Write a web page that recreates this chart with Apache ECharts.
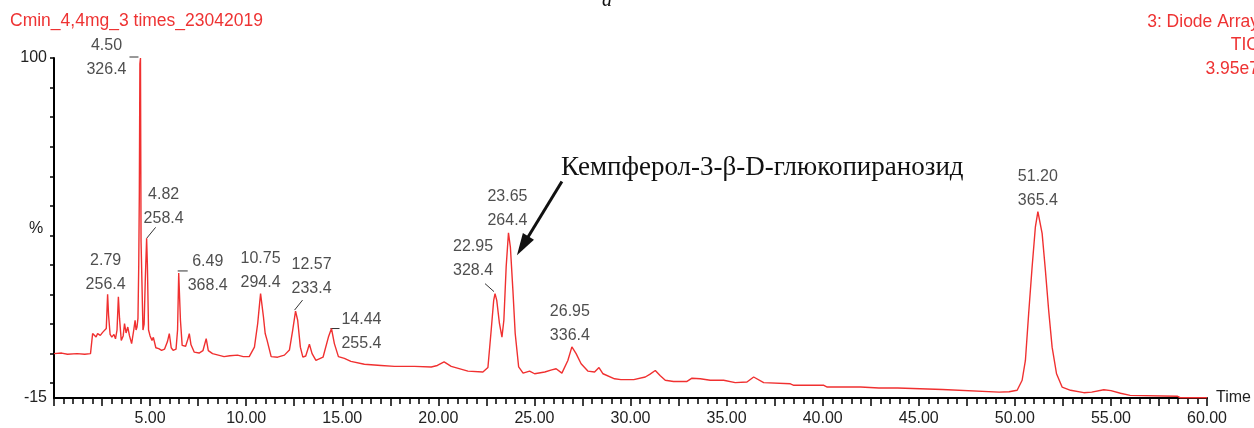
<!DOCTYPE html>
<html>
<head>
<meta charset="utf-8">
<script src="https://cdn.jsdelivr.net/npm/echarts@6/dist/echarts.min.js"></script>
<style>
  html, body { margin: 0; padding: 0; background: #fff; }
  #chart { width: 1254px; height: 428px; }
</style>
</head>
<body>
<div id="chart"></div>
<script>
// retention time (min) and TIC intensity (%)
var retTimes = [
  0.00, 0.40, 0.70, 1.20, 1.60, 1.90, 2.01, 2.10, 2.19, 2.27, 2.41, 2.53, 2.62, 2.72, 2.79, 2.84, 2.92,
  3.01, 3.12, 3.20, 3.28, 3.35, 3.41, 3.50, 3.60, 3.67, 3.75, 3.84, 3.93, 4.04, 4.15, 4.22, 4.27, 4.32,
  4.37, 4.41, 4.44, 4.47, 4.50, 4.53, 4.58, 4.63, 4.69, 4.75, 4.82, 4.86, 4.92, 5.00, 5.10, 5.17, 5.30,
  5.45, 5.60, 5.75, 5.90, 6.00, 6.10, 6.20, 6.35, 6.43, 6.49, 6.53, 6.58, 6.67, 6.85, 6.97, 7.04, 7.13,
  7.30, 7.55, 7.75, 7.92, 8.03, 8.25, 8.55, 8.85, 9.15, 9.55, 9.85,
  10.16, 10.43, 10.60, 10.70, 10.75, 10.90, 10.99, 11.09, 11.30, 11.64, 11.99, 12.25, 12.42, 12.57, 12.68,
  12.82, 12.95, 13.10, 13.29, 13.43, 13.63, 14.00, 14.28, 14.44, 14.59, 14.80, 15.11, 15.45, 16.15, 17.02,
  17.72, 18.76, 19.63, 19.95, 20.30, 20.67, 21.54, 22.32, 22.58, 22.75, 22.88, 22.95, 23.04, 23.18, 23.31,
  23.41, 23.53, 23.65, 23.75, 23.88, 24.00, 24.18, 24.41, 24.75, 25.01, 25.54, 25.90, 26.13, 26.43, 26.74,
  26.95, 27.17, 27.43, 27.78, 28.13, 28.36, 28.57, 29.17, 29.50, 30.17, 30.77, 31.00, 31.29, 31.55, 31.81,
  32.24, 32.94, 33.20, 33.63, 34.15, 34.85, 35.45, 36.06, 36.41, 36.93, 38.32, 38.50, 40.06, 40.24, 41.97,
  42.93, 43.90, 43.98, 46.23, 46.32, 49.18, 49.70, 50.12, 50.38, 50.55, 50.72, 50.90, 51.07, 51.20, 51.42,
  51.59, 51.76, 51.94, 52.17, 52.46, 52.90, 53.59, 54.00, 54.63, 55.00, 55.50, 56.00, 58.45, 58.60, 60.00
];
var tic = [
  0.0, 0.2, -0.2, 0.0, -0.2, 0.0, 6.8, 7.2, 5.6, 6.8, 6.2, 7.2, 6.8, 8.5, 20.1, 13, 6.5,
  5.6, 6.5, 5.0, 8.0, 19.2, 12, 4.5, 6, 10.2, 7, 9.0, 6, 3.4, 8, 11.3, 8, 9.0,
  12, 30, 54, 98, 100, 38, 38, 8, 10, 25, 39, 30, 8, 6, 4.5, 5.5, 2,
  1.7, 1.1, 1.5, 4, 6.8, 2, 1.1, 1.5, 8, 27.3, 20, 11.3, 2.8, 2.5, 5, 6.8, 3,
  0.5, 0.2, 1.0, 5.1, 1, 0, -0.5, -1, -0.7, -0.5, -1,
  -1, 2.2, 10.2, 17, 20.3, 12.4, 6.8, 4.5, -1, -1.2, -0.5, 1.2, 7.9, 14.4, 11.3,
  2.2, -1.2, -0.8, 3.2, 0, -2.3, -1.2, 5.6, 8.5, 3.4, -1, -1.6, -2.6, -3.6, -4,
  -4.3, -4.3, -4.5, -4.0, -2.8, -4.3, -5.9, -6.2, -4.7, 7.9, 18, 20.3, 18, 10.2, 5.6,
  11.3, 29.4, 40.9, 36, 21.5, 6.8, -4.5, -6.6, -5.9, -6.8, -6.2, -5.5, -5.1, -6.6, -2.3,
  2.3, 0, -3.4, -5.9, -6.2, -4.7, -6.8, -8.5, -8.8, -8.8, -7.9, -7.0, -5.7, -7.5, -9,
  -9.4, -9.4, -8.3, -8.5, -9, -9, -9.8, -9.6, -7.9, -9.8, -10.2, -10.7, -10.7, -11.3, -11.3,
  -11.6, -11.6, -12.1, -12.1, -12.7, -13, -12.9, -12.4, -9, -2.3, 13.6, 29.4, 42.9, 48, 40.7,
  28.2, 14.7, 2.2, -6.8, -11.3, -12.4, -13.2, -13.0, -12.2, -12.5, -13.4, -14.1, -14.4, -14.9, -14.9
];

// labelled peaks: retention time and m/z
var peakTimes = [2.79, 4.50, 4.82, 6.49, 10.75, 12.57, 14.44, 22.95, 23.65, 26.95, 51.20];
var peakMasses = ['256.4', '326.4', '258.4', '368.4', '294.4', '233.4', '255.4', '328.4', '264.4', '336.4', '365.4'];

var yTicks = [-10, 0, 10, 20, 30, 40, 50, 60, 70, 80, 90, 100];
var yLabels = [-15, 100];

// layout only: label offset from apex (px) and leader line [x1, y1, x2, y2] from apex (px)
var labelOffsets = [[-2, -22], [-34, 0], [17, -32], [29, 1], [0, -23], [16, -34], [30, 3], [-22, -35], [-1, -24], [-2, -23], [0, -23]];
var leaderLines = [null, [-11, -1, -2, -1], [0, 0, 9, -11], [-1, -2, 9, -2], null, [-1, -1, 7, -11], [-1, 0, 8, 0], [-1, -2, -10, -10], null, null, null];

var traceData = retTimes.map(function (t, i) { return [t, tic[i]]; });
var peakData = peakTimes.map(function (t, i) {
  var v = tic[retTimes.indexOf(t)];
  return { value: [t, v], label: { offset: labelOffsets[i] } };
});

var chart = echarts.init(document.getElementById('chart'));

var option = {
  animation: false,
  grid: { left: 54, right: 47, top: 58, bottom: 30 },
  xAxis: {
    type: 'value', min: 0, max: 60, interval: 2.5,
    name: 'Time', nameLocation: 'end', nameGap: 9,
    nameTextStyle: { color: '#222', fontFamily: 'Liberation Sans', fontSize: 16, verticalAlign: 'middle' },
    axisLine: { onZero: false, lineStyle: { color: '#000', width: 2 } },
    axisTick: { length: 8, lineStyle: { color: '#000', width: 1.5 } },
    minorTick: { show: true, splitNumber: 5, length: 6, lineStyle: { color: '#000', width: 1.5 } },
    splitLine: { show: false },
    axisLabel: {
      margin: 13, color: '#222', fontFamily: 'Liberation Sans', fontSize: 16,
      formatter: function (v) { return (v > 0 && v % 5 === 0) ? v.toFixed(2) : ''; }
    }
  },
  yAxis: {
    type: 'value', min: -15, max: 100,
    axisLine: { show: true, lineStyle: { color: '#000', width: 2 } },
    axisTick: { show: true, length: 4, customValues: yTicks, lineStyle: { color: '#000', width: 1.5 } },
    splitLine: { show: false },
    axisLabel: { margin: 7, color: '#222', fontFamily: 'Liberation Sans', fontSize: 16, customValues: yLabels }
  },
  series: [
    {
      name: 'TIC', type: 'line', data: traceData, symbol: 'none', smooth: false,
      lineStyle: { color: '#f03030', width: 1.4 },
      markLine: {
        silent: true, symbol: ['none', 'triangle'], symbolSize: [13, 22],
        lineStyle: { color: '#111', width: 3, type: 'solid' },
        label: { show: false },
        data: [[{ coord: [26.43, 58.2] }, { coord: [24.39, 36.5] }]]
      }
    },
    {
      name: 'peaks', type: 'scatter', data: peakData, symbolSize: 1,
      itemStyle: { color: 'rgba(0,0,0,0)' }, silent: true, z: 5,
      label: {
        show: true, position: 'inside', align: 'center', verticalAlign: 'middle',
        color: '#222', fontFamily: 'Liberation Sans', fontSize: 16, lineHeight: 24,
        formatter: function (p) { return p.value[0].toFixed(2) + '\n' + peakMasses[p.dataIndex]; }
      }
    }
  ],
  graphic: [
    { type: 'text', left: 10, top: 12, style: { text: 'Cmin_4,4mg_3 times_23042019', fill: '#ee3333', font: '17.5px "Liberation Sans"' } },
    { type: 'text', x: 1259, y: 10, style: { text: '3: Diode Array\nTIC\n3.95e7', fill: '#ee3333', font: '17.5px "Liberation Sans"', align: 'right', verticalAlign: 'top', lineHeight: 23.5 } },
    { type: 'text', x: 607, y: 11, style: { text: 'a', fill: '#111', font: 'italic 20px "Liberation Serif"', align: 'center', verticalAlign: 'bottom' } },
    { type: 'text', x: 36, y: 229, style: { text: '%', fill: '#222', font: '16px "Liberation Sans"', align: 'center', verticalAlign: 'middle' } },
    { type: 'text', x: 561, y: 168, style: { text: 'Кемпферол-3-β-D-глюкопиранозид', fill: '#111', font: '27px "Liberation Serif"', verticalAlign: 'middle' } }
  ]
};

chart.setOption(option);

// leader lines from each apex to its label
var leaders = [];
peakData.forEach(function (d, i) {
  var l = leaderLines[i];
  if (!l) return;
  var p = chart.convertToPixel({ gridIndex: 0 }, d.value);
  leaders.push({
    type: 'line', silent: true,
    shape: { x1: p[0] + l[0], y1: p[1] + l[1], x2: p[0] + l[2], y2: p[1] + l[3] },
    style: { stroke: '#333', lineWidth: 1 }
  });
});
chart.setOption({ graphic: option.graphic.concat(leaders) });
</script>
</body>
</html>
